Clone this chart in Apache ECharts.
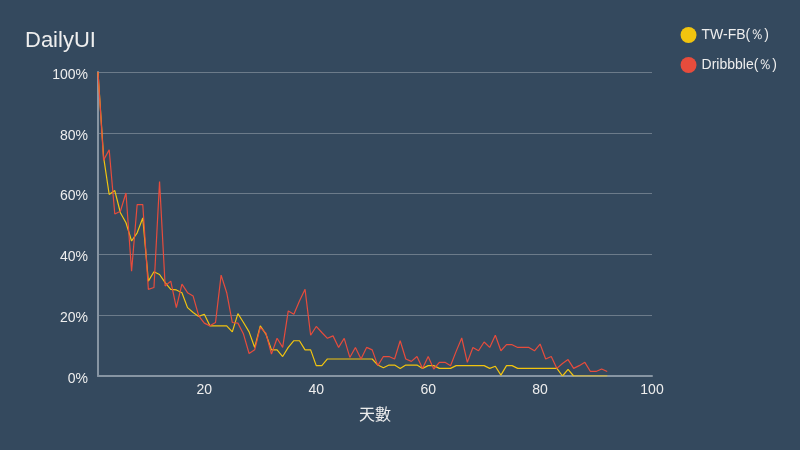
<!DOCTYPE html>
<html><head><meta charset="utf-8">
<script src="https://cdn.jsdelivr.net/npm/echarts@6/dist/echarts.min.js"></script>
<style>html,body{margin:0;padding:0;background:#34495e;}#c{width:800px;height:450px;}</style>
</head><body><div id="c"></div>
<script>
const days = [];
for (let d = 1; d <= 92; d++) days.push(d);
const twfb = [100,72,59.7,61,53.7,50.4,44.4,47.1,52,31.2,34.3,33.4,30.7,28.5,28.3,27.4,22.5,20.9,19.6,20.3,
16.5,16.5,16.5,16.5,14.5,20.5,17.6,14.5,9.4,16.5,13.8,8.6,8.6,6.4,9.4,11.6,11.6,8.6,8.6,3.4,
3.4,5.6,5.6,5.6,5.6,5.6,5.6,5.6,5.6,5.6,3.6,2.7,3.6,3.6,2.5,3.6,3.6,3.6,2.5,3.4,
3.4,2.5,2.5,2.5,3.4,3.4,3.4,3.4,3.4,3.4,2.5,3.2,0.3,3.4,3.4,2.5,2.5,2.5,2.5,2.5,
2.5,2.5,2.5,0,2.2,0,0,0,0,0,0,0];
const dribbble = [100,71,74.4,53.3,54.2,60.2,34.5,56.4,56.4,28.5,29.1,64,29.6,31.2,22.5,30.2,27.4,26.3,19.8,17.4,
16.5,17.6,33.2,27.4,17.6,17.4,13.8,7.4,8.6,16,14.1,7.2,12.4,9.4,21.4,20.3,24.7,28.5,13.4,16.3,
14.3,12.4,13.2,9.4,12.4,6.1,9.4,5.6,9.4,8.6,3.4,6.4,6.4,5.6,11.6,5.6,4.8,6.4,2.5,6.4,
2.3,4.5,4.5,3.4,8.1,12.5,4.5,9.4,8.3,11.2,9.4,13.4,8.3,10.3,10.3,9.4,9.4,9.4,8.3,10.5,
5.6,6.4,2.5,4.1,5.4,2.5,3.4,4.5,1.5,1.5,2.3,1.5];
const seriesNames = ['TW-FB(％)', 'Dribbble(％)'];

const chart = echarts.init(document.getElementById('c'), null, {renderer: 'canvas'});
const txt = '#eeeeee';
chart.setOption({
  backgroundColor: '#34495e',
  animation: false,
  title: {text: 'DailyUI', left: 20, top: 25, textStyle: {color: txt, fontSize: 22, fontWeight: 'normal', fontFamily: 'Liberation Sans, Arial, sans-serif'}},
  legend: {
    orient: 'vertical', right: 18, top: 22, itemGap: 14, icon: 'circle', itemWidth: 16, itemHeight: 16,
    textStyle: {color: txt, fontSize: 14, fontFamily: 'Liberation Sans, Arial, sans-serif'},
    data: seriesNames
  },
  grid: {left: 98, right: 148, top: 72, bottom: 74},
  xAxis: {
    type: 'value', min: 1, max: 100,
    name: '天數', nameLocation: 'middle', nameGap: 30,
    nameTextStyle: {color: txt, fontSize: 16, fontFamily: 'Noto Sans CJK TC, sans-serif'},
    axisLine: {lineStyle: {color: '#8795a3', width: 2}},
    axisTick: {show: false},
    splitLine: {show: false},
    axisLabel: {color: txt, fontSize: 14, showMinLabel: false, margin: 7, fontFamily: 'Liberation Sans, Arial, sans-serif'}
  },
  yAxis: {
    type: 'value', min: 0, max: 100, interval: 20,
    axisLine: {show: true, lineStyle: {color: '#8795a3', width: 2}},
    axisTick: {show: false},
    splitLine: {lineStyle: {color: '#6c7b8a', width: 1}},
    axisLabel: {color: txt, fontSize: 14, formatter: '{value}%', margin: 10, verticalAlign: 'top', lineHeight: 6, fontFamily: 'Liberation Sans, Arial, sans-serif'}
  },
  series: [
    {name: seriesNames[0], type: 'line', showSymbol: false, symbol: 'circle', color: '#f1c40f',
     lineStyle: {width: 1.2}, data: days.map((d, i) => [d, twfb[i]])},
    {name: seriesNames[1], type: 'line', showSymbol: false, symbol: 'circle', color: '#e74c3c',
     lineStyle: {width: 1.2}, data: days.map((d, i) => [d, dribbble[i]])}
  ]
});
</script></body></html>
